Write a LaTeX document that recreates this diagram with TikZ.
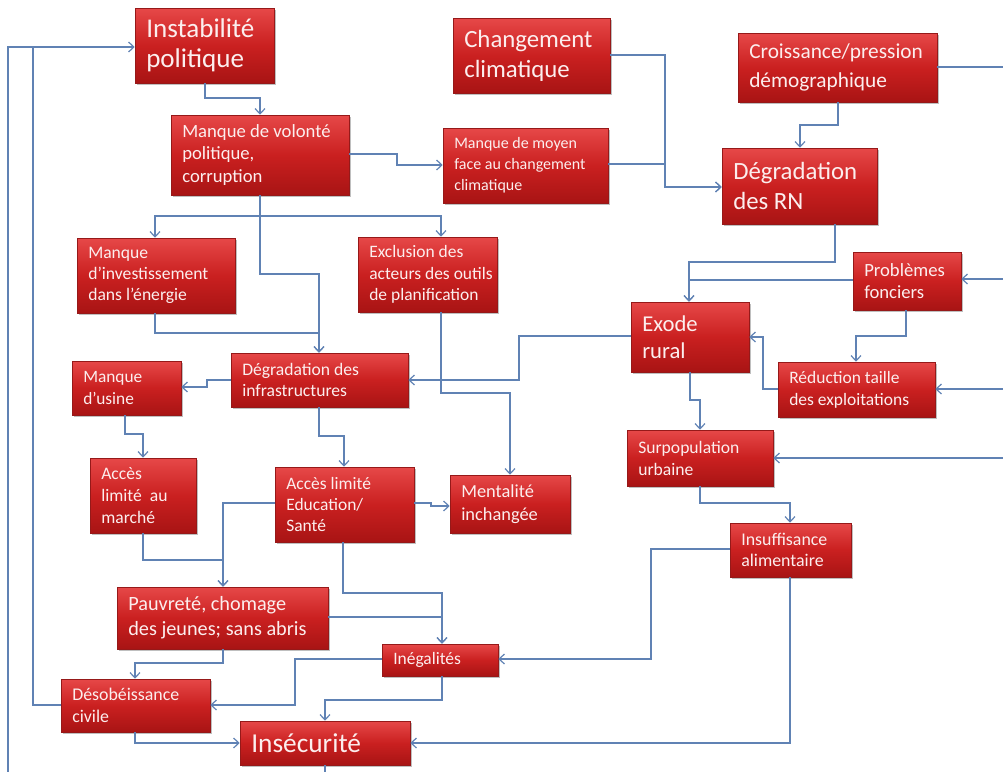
\documentclass[tikz,border=0pt]{standalone}
\usepackage{fontspec}
\setmainfont{Carlito}
\usetikzlibrary{arrows.meta,shadows}
\definecolor{boxtop}{RGB}{230,72,72}
\definecolor{boxmid}{RGB}{202,32,32}
\definecolor{boxbot}{RGB}{168,20,20}
\definecolor{boxedge}{RGB}{150,25,25}
\definecolor{boxtext}{RGB}{252,238,238}
\definecolor{linecol}{RGB}{96,130,180}
\tikzset{
  diagbox/.style={rectangle, inner sep=0pt,
    top color=boxtop, bottom color=boxbot, middle color=boxmid,
    draw=boxedge, line width=0.4pt,
    drop shadow={shadow xshift=1.5pt, shadow yshift=-1.5pt, fill=black!55, opacity=0.45}},
  boxlabel/.style={inner sep=0pt, align=left, text=boxtext, anchor=west},
  conn/.style={draw=linecol, line width=0.9pt},
  arr/.style={conn, -{Straight Barb[length=4pt,width=7.5pt,line width=0.9pt]}}
}
\newcommand\diabox[7]{%
  \pgfmathsetmacro\bw{(#4-#2)*0.75}%
  \pgfmathsetmacro\bh{(#5-#3)*0.75}%
  \node[diagbox, minimum width=\bw pt, minimum height=\bh pt] (#1) at ({(#2+#4)/2},{(#3+#5)/2}) {};
  \node[boxlabel, font=#6] (#1-t) at ({#2+11},{(#3+#5)/2}) {#7};}
\newcommand\fsz[2]{\fontsize{#1}{#2}\selectfont}
\begin{document}
\begin{tikzpicture}[x=0.75pt,y=-0.75pt]
\useasboundingbox (0,0) rectangle (1003,771);
\clip (0,0) rectangle (1003,771);
\fill[white] (0,0) rectangle (1003,771);
% boxes
\diabox{inst}{135}{8}{274}{83}{\fsz{20.3}{22.5}}{Instabilité\\politique}
\diabox{chang}{453}{18}{610}{93}{\fsz{18.6}{22.5}}{Changement\\climatique}
\diabox{crois}{738}{33}{937}{102}{\fsz{16}{22}}{Croissance/pression\\démographique}
\diabox{volo}{171}{115}{349}{195}{\fsz{14}{17}}{Manque de volonté\\politique,\\corruption}
\diabox{moyen}{443}{128}{608}{203}{\fsz{12}{15.7}}{Manque de moyen\\face au changement\\climatique}
\diabox{rn}{722}{148}{877}{224}{\fsz{18.6}{22.5}}{Dégradation\\des RN}
\diabox{invest}{77}{238}{235}{313}{\fsz{13.2}{16}}{Manque\\d’investissement\\dans l'énergie}
\diabox{excl}{358}{237}{497}{312}{\fsz{13.1}{16}}{Exclusion des\\acteurs des outils\\de planification}
\diabox{infra}{231}{353}{408}{407}{\fsz{13.2}{16.3}}{Dégradation des\\infrastructures}
\diabox{usine}{72}{361}{181}{415}{\fsz{13}{16}}{Manque\\d'usine}
\diabox{marche}{90}{458}{196}{533}{\fsz{13.2}{16.3}}{Accès\\limité~ au\\marché}
\diabox{educ}{275}{467}{414}{542}{\fsz{13.1}{16}}{Accès limité\\Education/\\Santé}
\diabox{ment}{450}{475}{570}{533}{\fsz{13.8}{17.3}}{Mentalité\\inchangée}
\diabox{pauv}{117}{587}{328}{649}{\fsz{15.2}{19}}{Pauvreté, chomage\\des jeunes; sans abris}
\diabox{inega}{382}{644}{498}{676}{\fsz{13.1}{16}}{Inégalités}
\diabox{deso}{61}{679}{210}{732}{\fsz{13.4}{16}}{Désobéissance\\civile}
\diabox{insec}{240}{721}{410}{765}{\fsz{20.5}{23}}{Insécurité}
\diabox{exode}{631}{302}{749}{372}{\fsz{17}{20.5}}{Exode\\rural}
\diabox{fonc}{853}{252}{961}{310}{\fsz{14}{17}}{Problèmes\\fonciers}
\diabox{reduc}{778}{362}{935}{417}{\fsz{13.1}{16.3}}{Réduction taille\\des exploitations}
\diabox{surp}{627}{430}{773}{486}{\fsz{13.2}{16.5}}{Surpopulation\\urbaine}
\diabox{insuf}{730}{523}{851}{577}{\fsz{13.4}{16.3}}{Insuffisance\\alimentaire}
% connectors
\draw[arr] (insec.south -| 325,0) -- (325,790) -- (8,790) -- (8,47) -- (inst.west |- 0,47);
\draw[conn] (deso.west |- 0,705) -- (33,705) -- (33,47);
\draw[arr] (inst.south -| 205,0) -- (205,98) -- (260,98) -- (volo.north -| 260,0);
\draw[arr] (volo.east |- 0,154) -- (397,154) -- (397,165) -- (moyen.west |- 0,165);
\draw[arr] (volo.south -| 260,0) -- (260,216) -- (155,216) -- (invest.north -| 155,0);
\draw[arr] (volo.south -| 260,0) -- (260,216) -- (441,216) -- (excl.north -| 441,0);
\draw[arr] (volo.south -| 260,0) -- (260,274) -- (319,274) -- (infra.north -| 319,0);
\draw[arr] (invest.south -| 155,0) -- (155,333) -- (319,333) -- (infra.north -| 319,0);
\draw[arr] (chang.east |- 0,55) -- (665,55) -- (665,187) -- (rn.west |- 0,187);
\draw[arr] (moyen.east |- 0,164) -- (665,164) -- (665,187) -- (rn.west |- 0,187);
\draw[arr] (crois.south -| 838,0) -- (838,125) -- (800,125) -- (rn.north -| 800,0);
\draw[conn] (crois.east |- 0,67) -- (1010,67);
\draw[arr] (rn.south -| 835,0) -- (835,262) -- (689,262) -- (exode.north -| 689,0);
\draw[arr] (fonc.west |- 0,280) -- (689,280) -- (exode.north -| 689,0);
\draw[arr] (1010,279) -- (fonc.east |- 0,279);
\draw[arr] (fonc.south -| 906,0) -- (906,336) -- (856,336) -- (reduc.north -| 856,0);
\draw[arr] (reduc.west |- 0,389) -- (763,389) -- (763,337) -- (exode.east |- 0,337);
\draw[arr] (1010,389) -- (reduc.east |- 0,389);
\draw[arr] (1010,458) -- (surp.east |- 0,458);
\draw[arr] (exode.south -| 690,0) -- (690,400) -- (700,400) -- (surp.north -| 700,0);
\draw[arr] (surp.south -| 700,0) -- (700,503) -- (790,503) -- (insuf.north -| 790,0);
\draw[arr] (exode.west |- 0,336) -- (519,336) -- (519,380) -- (infra.east |- 0,380);
\draw[arr] (excl.south -| 441,0) -- (441,393) -- (510,393) -- (ment.north -| 510,0);
\draw[arr] (infra.west |- 0,380) -- (207,380) -- (207,387) -- (usine.east |- 0,387);
\draw[arr] (infra.south -| 319,0) -- (319,436) -- (344,436) -- (educ.north -| 344,0);
\draw[arr] (usine.south -| 125,0) -- (125,434) -- (143,434) -- (marche.north -| 143,0);
\draw[arr] (educ.east |- 0,503) -- (431,503) -- (431,506) -- (ment.west |- 0,506);
\draw[arr] (educ.west |- 0,503) -- (223,503) -- (pauv.north -| 223,0);
\draw[arr] (marche.south -| 143,0) -- (143,560) -- (223,560) -- (pauv.north -| 223,0);
\draw[arr] (educ.south -| 343,0) -- (343,593) -- (442,593) -- (inega.north -| 442,0);
\draw[arr] (pauv.east |- 0,617) -- (442,617) -- (inega.north -| 442,0);
\draw[arr] (pauv.south -| 223,0) -- (223,663) -- (135,663) -- (deso.north -| 135,0);
\draw[arr] (inega.west |- 0,659) -- (295,659) -- (295,705) -- (deso.east |- 0,705);
\draw[arr] (inega.south -| 442,0) -- (442,700) -- (325,700) -- (insec.north -| 325,0);
\draw[arr] (deso.south -| 135,0) -- (135,743) -- (insec.west |- 0,743);
\draw[arr] (insuf.west |- 0,549) -- (651,549) -- (651,659) -- (inega.east |- 0,659);
\draw[arr] (insuf.south -| 790,0) -- (790,743) -- (insec.east |- 0,743);
\end{tikzpicture}
\end{document}
